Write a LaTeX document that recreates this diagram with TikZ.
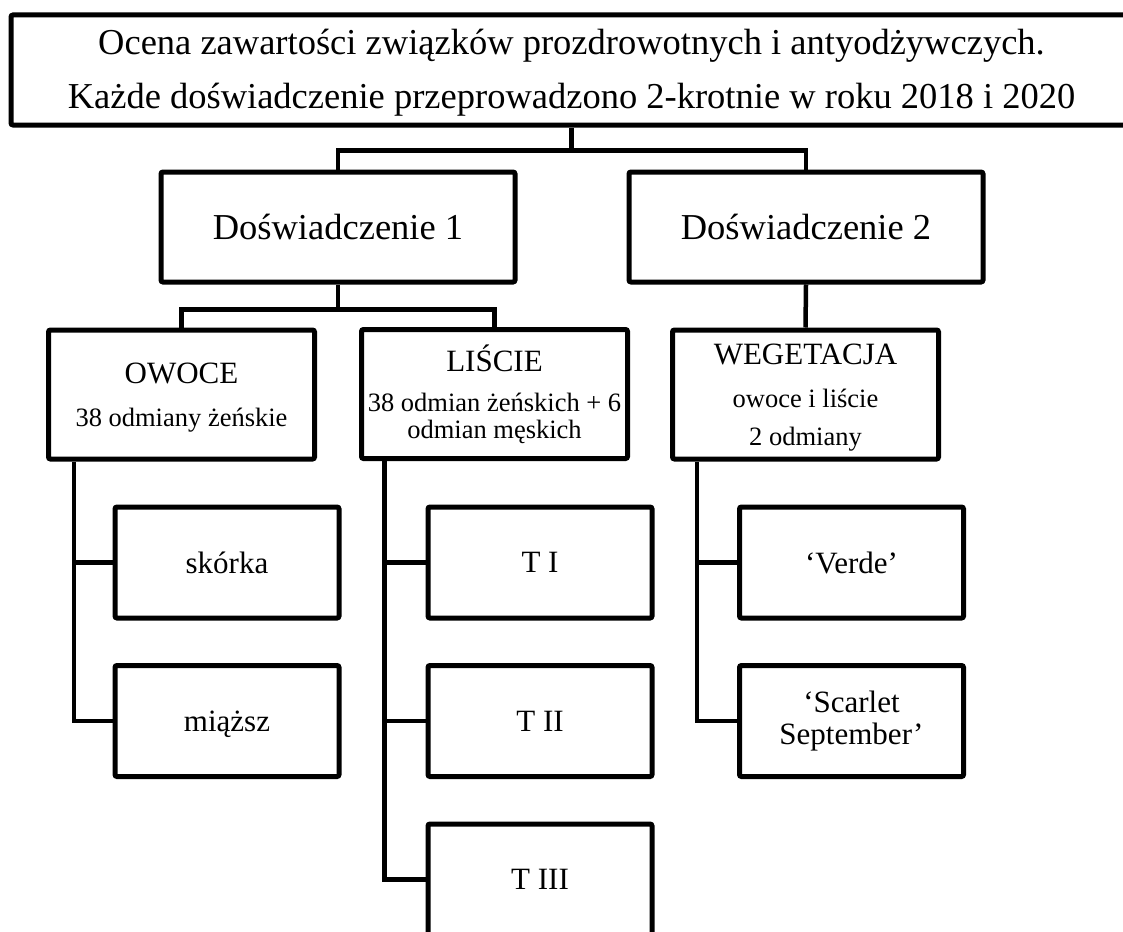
\documentclass[tikz,border=0pt]{standalone}
\usepackage{fontspec}
\setmainfont{Liberation Serif}
\begin{document}
\begin{tikzpicture}[x=1pt,y=-1pt,
  box/.style={draw, line width=5pt, rounded corners=2pt, inner sep=0pt, align=center, fill=white},
  conn/.style={line width=4.5pt},
  big/.style={font=\fontsize{36.5}{54}\selectfont},
  subbox/.style={box, minimum width=224pt, minimum height=111pt, font=\fontsize{31}{32}\selectfont},
  midbox/.style={box, minimum width=266pt, minimum height=129pt},
]
\path[use as bounding box, fill=white] (0,0) rectangle (1123,931);

\node[box, big, minimum width=1121pt, minimum height=110pt, text depth=2pt] (top) at (571.5,70)
  {Ocena zawartości związków prozdrowotnych i antyodżywczych.\\Każde doświadczenie przeprowadzono 2-krotnie w roku 2018 i 2020};

\node[box, big, minimum width=354pt, minimum height=110pt] (d1) at (338,227) {Doświadczenie 1};
\node[box, big, minimum width=354pt, minimum height=110pt] (d2) at (806,227) {Doświadczenie 2};

\node[midbox, font=\fontsize{31}{43}\selectfont, text depth=0pt] (owoce) at (181.5,394.5)
  {OWOCE\\\fontsize{26.5}{43}\selectfont 38 odmiany żeńskie};
\node[midbox, font=\fontsize{31}{27}\selectfont] (liscie) at (494.5,394)
  {LIŚCIE\\[13pt]\fontsize{26.5}{27}\selectfont 38 odmian żeńskich + 6\\\fontsize{26.5}{27}\selectfont odmian męskich};
\node[midbox, font=\fontsize{31}{38}\selectfont, text depth=0pt] (weg) at (805.5,394.5)
  {WEGETACJA\\[5pt]\fontsize{26.5}{38}\selectfont owoce i liście\\\fontsize{26.5}{38}\selectfont 2 odmiany};

\node[subbox] (skorka) at (227,562.5) {skórka};
\node[subbox, text depth=0pt] (miazsz) at (227,721) {miąższ};
\node[subbox] (t1) at (540,562.5) {T I};
\node[subbox] (t2) at (540,721) {T II};
\node[subbox] (t3) at (540,879.5) {T III};
\node[subbox] (verde) at (851.5,562.5) {‘Verde’};
\node[subbox] (scarlet) at (851.5,721) {‘Scarlet\\September’};

% connectors
\draw[conn] (top.south) -- ++(0,23) coordinate (j0);
\draw[conn] (d1.north) |- (j0) -| (d2.north);
\draw[conn] (d1.south) -- ++(0,25) coordinate (j1);
\draw[conn] (owoce.north) |- (j1) -| (liscie.north);
\draw[conn] (d2.south) -- (weg.north);

\coordinate (oa) at ([xshift=28pt]owoce.south west);
\draw[conn] (oa) |- (miazsz.west);
\draw[conn] (oa |- skorka.west) -- (skorka.west);

\coordinate (la) at ([xshift=25.5pt]liscie.south west);
\draw[conn] (la) |- (t3.west);
\draw[conn] (la |- t1.west) -- (t1.west);
\draw[conn] (la |- t2.west) -- (t2.west);

\coordinate (wa) at ([xshift=27pt]weg.south west);
\draw[conn] (wa) |- (scarlet.west);
\draw[conn] (wa |- verde.west) -- (verde.west);
\end{tikzpicture}
\end{document}
